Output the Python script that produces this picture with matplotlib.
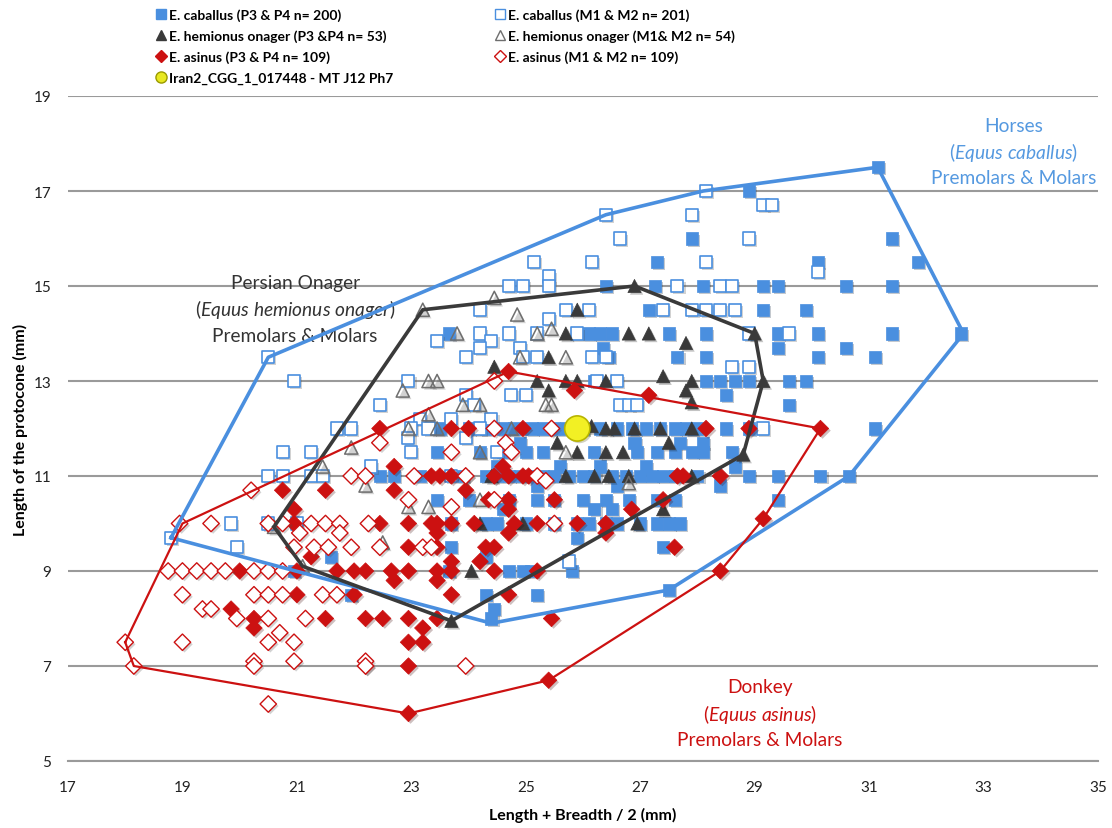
import matplotlib
matplotlib.use("Agg")
import matplotlib.pyplot as plt
import matplotlib.patheffects as pe
from matplotlib.lines import Line2D

plt.rcParams['font.family'] = ['Lato', 'DejaVu Sans']
plt.rcParams['mathtext.fontset'] = 'custom'
plt.rcParams['mathtext.rm'] = 'Lato'
plt.rcParams['mathtext.it'] = 'Lato:italic'

# ---- E. caballus P3 & P4 (filled squares), grouped by row of protocone length
cab_pm_rows = {
    17.5: [31.15],
    17.0: [28.9],
    16.0: [27.9, 31.4],
    15.5: [27.3, 30.1, 31.85],
    15.0: [26.4, 27.25, 28.1, 29.15, 29.4, 30.6, 31.4],
    14.5: [27.15, 29.15, 29.9],
    14.0: [23.65, 26.1, 26.3, 26.5, 27.5, 28.15, 29.4, 30.1, 31.4, 32.6],
    13.7: [26.35, 29.4, 30.6],
    13.5: [26.45, 27.65, 28.15, 30.1, 31.1],
    13.0: [26.2, 28.15, 28.4, 28.65, 28.9, 29.6, 29.9],
    12.7: [28.5],
    12.5: [29.6],
    12.0: [23.5, 24.0, 24.3, 24.6, 24.8, 25.1, 25.3, 25.5, 25.7, 26.0, 26.3,
           26.6, 26.85, 27.1, 27.35, 27.6, 27.8, 28.0, 28.5, 28.9, 31.1],
    11.7: [24.9, 26.9, 27.7, 28.1],
    11.5: [23.45, 24.2, 24.6, 25.0, 25.3, 26.2, 26.95, 27.3, 27.6, 27.9,
           28.1, 28.6],
    11.2: [24.5, 25.6, 26.3, 27.1, 28.65],
    11.0: [22.45, 22.7, 23.15, 23.9, 24.3, 24.5, 24.7, 24.9, 25.1, 25.3, 25.5,
           25.75, 26.0, 26.2, 26.5, 26.75, 27.0, 27.2, 27.4, 27.6, 28.0, 28.9,
           29.4, 30.15, 30.65],
    10.8: [25.2, 26.6, 28.4],
    10.5: [23.45, 24.0, 24.7, 25.2, 25.5, 26.0, 26.4, 26.8, 27.3, 27.6, 29.4],
    10.3: [24.6, 26.2, 26.5],
    10.0: [23.7, 24.3, 24.5, 25.0, 25.5, 25.9, 26.1, 26.4, 26.6, 27.0, 27.3,
           27.5, 27.7],
    9.7: [25.9],
    9.5: [23.7, 27.4],
    9.3: [21.6, 24.3],
    9.0: [20.95, 23.65, 24.7, 24.95, 25.1, 25.8],
    8.6: [27.5],
    8.5: [21.95, 24.3, 25.2],
    8.2: [24.45],
    8.0: [24.4],
}

# ---- E. caballus M1 & M2 (open squares)
cab_m_rows = {
    17.0: [28.15],
    16.7: [29.15, 29.3],
    16.5: [26.4, 27.9],
    16.0: [26.65, 28.9],
    15.5: [25.15, 26.15, 28.15],
    15.3: [30.1],
    15.2: [25.4],
    15.0: [24.7, 24.95, 25.4, 27.65, 28.4, 28.6],
    14.5: [24.2, 25.7, 26.1, 27.4, 27.9, 28.15, 28.4, 28.65],
    14.3: [25.4],
    14.0: [24.2, 24.7, 25.2, 25.9, 28.9, 29.6],
    13.85: [23.45, 24.4],
    13.7: [24.2, 24.9],
    13.5: [20.5, 23.95, 24.95, 25.2, 26.15, 26.4],
    13.3: [28.6, 28.9],
    13.0: [20.95, 22.95, 26.25, 26.6],
    12.7: [23.95, 24.75, 25.0],
    12.5: [22.45, 24.1, 26.65, 26.8, 26.95],
    12.2: [23.15, 23.7, 24.4],
    12.0: [21.7, 21.95, 23.0, 23.3, 24.2, 29.15],
    11.8: [22.95, 23.95],
    11.5: [20.75, 21.25, 23.0, 24.5],
    11.2: [22.3],
    11.0: [20.5, 20.75, 21.25, 21.45, 23.7],
    10.0: [19.85, 20.5, 21.0],
    9.7: [18.8],
    9.5: [19.95],
    9.2: [25.75],
}

# ---- E. hemionus onager P3 & P4 (filled triangles)
ona_pm_x = [26.9, 25.9, 25.7, 26.8, 27.15, 27.8, 25.4, 24.45, 25.2, 25.7, 25.9,
            26.4, 27.4, 27.9, 29.15, 29.0, 25.4, 27.8, 27.9, 26.15, 26.4, 26.55,
            26.9, 27.35, 27.9, 25.55, 27.5, 25.9, 26.4, 26.7, 28.8, 25.7, 26.2,
            26.45, 26.8, 27.9, 24.2, 24.95, 26.95, 27.4, 24.05, 23.7, 24.4]
ona_pm_y = [15.0, 14.5, 14.0, 14.0, 14.0, 13.8, 13.5, 13.3, 13.0, 13.0, 13.0,
            13.0, 13.1, 13.0, 13.0, 14.0, 12.8, 12.8, 12.55, 12.05, 12.0, 12.0,
            12.0, 12.0, 12.0, 11.7, 11.7, 11.5, 11.5, 11.5, 11.45, 11.0, 11.0,
            11.0, 11.0, 11.0, 10.0, 10.0, 10.0, 10.3, 9.0, 7.95, 11.0]

# ---- E. hemionus onager M1 & M2 (open triangles)
ona_m_x = [23.2, 24.45, 24.85, 23.8, 25.2, 25.45, 24.9, 25.7, 23.3, 23.45,
           22.85, 23.9, 24.2, 25.35, 25.45, 23.3, 22.95, 23.45, 24.75, 21.95,
           24.2, 25.7, 21.45, 22.2, 26.8, 24.2, 22.5, 22.95, 23.3, 20.6, 21.1]
ona_m_y = [14.5, 14.75, 14.4, 14.0, 14.0, 14.1, 13.5, 13.5, 13.0, 13.0,
           12.8, 12.5, 12.5, 12.5, 12.5, 12.3, 12.0, 12.0, 12.0, 11.6,
           11.5, 11.5, 11.2, 10.8, 10.85, 10.5, 9.6, 10.35, 10.35, 9.93, 9.1]

# ---- E. asinus P3 & P4 (filled diamonds)
asi_pm_rows = {
    13.2: [24.7],
    12.8: [25.85],
    12.7: [27.15],
    12.0: [22.45, 23.7, 24.0, 24.95, 28.15, 28.9, 30.15],
    11.2: [22.7, 24.6],
    11.0: [23.35, 23.5, 23.7, 23.95, 24.45, 24.7, 24.95, 25.05, 27.65, 27.75,
           28.4],
    10.7: [20.75, 21.5, 22.7, 23.95],
    10.5: [24.35, 24.7, 25.5, 27.4],
    10.3: [20.95, 24.7, 26.85],
    10.1: [29.15],
    10.0: [20.95, 22.45, 22.95, 23.35, 23.45, 23.7, 24.1, 24.8, 25.2, 25.9,
           26.4],
    9.8: [23.45, 24.7, 26.4],
    9.5: [22.95, 23.45, 24.3, 24.45, 27.6],
    9.3: [21.25],
    9.2: [23.7, 24.2],
    9.0: [20.0, 21.0, 21.7, 22.0, 22.2, 22.65, 22.95, 23.45, 23.7, 24.45,
          25.2, 28.4],
    8.8: [22.7, 23.45],
    8.5: [21.0, 22.0, 23.7, 24.7],
    8.2: [19.85],
    8.0: [20.25, 21.5, 22.2, 22.5, 22.95, 23.45, 25.45],
    7.8: [20.25, 23.2],
    7.5: [22.95, 23.2],
    7.0: [22.2, 22.95],
    6.7: [25.4],
    6.0: [22.95],
}

# ---- E. asinus M1 & M2 (open diamonds)
asi_m_rows = {
    13.0: [24.45],
    12.0: [24.45, 25.45],
    11.7: [22.45, 24.65],
    11.5: [23.7, 24.75],
    11.0: [21.95, 22.2, 23.05, 23.95, 25.2],
    10.9: [25.35],
    10.7: [20.2],
    10.5: [22.95, 24.45],
    10.35: [23.7],
    10.0: [18.95, 19.5, 20.5, 20.75, 21.25, 21.5, 21.75, 22.25, 25.5],
    9.8: [21.05, 21.75],
    9.5: [20.95, 21.3, 21.55, 21.95, 22.45, 23.2, 23.35],
    9.0: [18.75, 19.0, 19.25, 19.5, 19.75, 20.25, 20.5, 20.75],
    8.5: [19.0, 20.25, 20.5, 20.75, 21.45, 21.7],
    8.2: [19.35, 19.5],
    8.0: [19.95, 20.5, 21.15],
    7.7: [20.7],
    7.5: [18.0, 19.0, 20.5, 20.95],
    7.1: [20.95, 22.2, 20.25],
    7.0: [18.15, 20.25, 22.2, 23.95],
    6.2: [20.5],
}

# ---- sample Iran2_CGG_1_017448
iran_x = [25.9]
iran_y = [12.0]

# ---- outlines around each group
hull_cab_x = [18.8, 20.5, 26.4, 28.1, 31.15, 32.65, 30.65, 27.5, 24.4, 18.8]
hull_cab_y = [9.7, 13.5, 16.5, 17.0, 17.5, 14.0, 11.0, 8.6, 7.9, 9.7]
hull_ona_x = [20.6, 21.1, 23.7, 28.8, 29.15, 29.0, 26.9, 23.2, 20.6]
hull_ona_y = [9.93, 9.1, 7.95, 11.45, 13.0, 14.0, 15.0, 14.5, 9.93]
hull_asi_x = [18.0, 18.15, 22.95, 25.4, 28.4, 29.15, 30.15, 24.7, 19.0, 18.0]
hull_asi_y = [7.5, 7.0, 6.0, 6.7, 9.0, 10.1, 12.0, 13.2, 10.0, 7.5]

xticks = list(range(17, 36, 2))
yticks = list(range(5, 20, 2))

labels = ['E. caballus (P3 & P4 n= 200)', 'E. caballus (M1 & M2 n= 201)',
          'E. hemionus onager (P3 &P4 n= 53)', 'E. hemionus onager (M1& M2 n= 54)',
          'E. asinus (P3 & P4 n= 109)', 'E. asinus (M1 & M2 n= 109)',
          'Iran2_CGG_1_017448 - MT J12 Ph7']


def unpack(rows):
    xs, ys = [], []
    for y, row in rows.items():
        for x in row:
            xs.append(x)
            ys.append(y)
    return xs, ys


cab_pm_x, cab_pm_y = unpack(cab_pm_rows)
cab_m_x, cab_m_y = unpack(cab_m_rows)
asi_pm_x, asi_pm_y = unpack(asi_pm_rows)
asi_m_x, asi_m_y = unpack(asi_m_rows)

blue = '#4a8fdf'
dark = '#3a3a3a'
grey = '#6e6e6e'
red = '#cc1111'
shadow = [pe.SimplePatchShadow(offset=(1.5, -1.5), alpha=0.25), pe.Normal()]

fig = plt.figure(figsize=(11.12, 8.29), dpi=100)
ax = fig.add_axes([68 / 1112, 1 - 762 / 829, 1030 / 1112, 665 / 829])

s_sq = 75
s_tri = 90
s_dia = 70

h1 = ax.scatter(cab_pm_x, cab_pm_y, marker='s', s=s_sq, c=blue, edgecolors=blue,
                linewidths=0.5, zorder=3)
h2 = ax.scatter(cab_m_x, cab_m_y, marker='s', s=s_sq, facecolors='white',
                edgecolors=blue, linewidths=1.2, zorder=3)
h3 = ax.scatter(ona_pm_x, ona_pm_y, marker='^', s=s_tri, c=dark, edgecolors=dark,
                linewidths=0.5, zorder=4)
h4 = ax.scatter(ona_m_x, ona_m_y, marker='^', s=s_tri, facecolors='none',
                edgecolors=grey, linewidths=1.1, zorder=4)
h5 = ax.scatter(asi_pm_x, asi_pm_y, marker='D', s=s_dia, c=red, edgecolors=red,
                linewidths=0.5, zorder=5)
h6 = ax.scatter(asi_m_x, asi_m_y, marker='D', s=s_dia, facecolors='white',
                edgecolors=red, linewidths=1.0, zorder=5)
for h in (h1, h2, h3, h4, h5, h6):
    h.set_path_effects(shadow)

ax.plot(hull_cab_x, hull_cab_y, color=blue, lw=2.6, zorder=6)
ax.plot(hull_ona_x, hull_ona_y, color=dark, lw=2.6, zorder=6)
ax.plot(hull_asi_x, hull_asi_y, color=red, lw=1.6, zorder=6)

h7 = ax.scatter(iran_x, iran_y, marker='o', s=330, c='#f2f024', edgecolors='#b8b400',
                linewidths=1.2, zorder=7)
h7.set_path_effects(shadow)

ax.set_xlim(17, 35)
ax.set_ylim(5, 19)
ax.set_xticks(xticks)
ax.set_yticks(yticks)
ax.tick_params(length=0, labelsize=11, colors='#222222')
ax.tick_params(axis='x', pad=14)
ax.tick_params(axis='y', pad=12)
ax.yaxis.grid(True, color='#9a9a9a', lw=1.5)
ax.set_axisbelow(True)
for side in ('left', 'right', 'top'):
    ax.spines[side].set_visible(False)
ax.spines['bottom'].set_color('#9a9a9a')
ax.spines['bottom'].set_linewidth(1.5)

ax.set_xlabel('Length + Breadth / 2 (mm)', fontsize=11.5, fontweight='bold',
              va='center')
ax.set_ylabel('Length of the protocone (mm)', fontsize=11.5, fontweight='bold',
              va='center')
ax.xaxis.set_label_coords(0.5, -53 / 665)
ax.yaxis.set_label_coords(-48 / 1030, 0.5)

# group captions
lab_font = dict(family='Lato', fontsize=13.8, ha='center', va='center')
ax.text(33.53, 18.37, 'Horses', color='#5599e0', **lab_font)
ax.text(33.53, 17.84, r'($\mathit{Equus\ caballus}$)', color='#5599e0', **lab_font)
ax.text(33.53, 17.29, 'Premolars & Molars', color='#5599e0', **lab_font)
ax.text(20.97, 15.08, 'Persian Onager', color='#333333', **lab_font)
ax.text(20.97, 14.52, r'($\mathit{Equus\ hemionus\ onager}$)', color='#333333',
        **lab_font)
ax.text(20.97, 13.95, 'Premolars & Molars', color='#333333', **lab_font)
ax.text(29.09, 6.56, 'Donkey', color='#cc1111', **lab_font)
ax.text(29.09, 6.01, r'($\mathit{Equus\ asinus}$)', color='#cc1111', **lab_font)
ax.text(29.09, 5.46, 'Premolars & Molars', color='#cc1111', **lab_font)

# legend in two columns
def proxy(marker, face, edge, size=7):
    return Line2D([], [], ls='none', marker=marker, markersize=size,
                  markerfacecolor=face, markeredgecolor=edge, markeredgewidth=1.0)


left_handles = [proxy('s', blue, blue), proxy('^', dark, dark),
                proxy('D', red, red, 6), proxy('o', '#e8e820', '#9a9a00', 8)]
right_handles = [proxy('s', 'white', blue), proxy('^', 'white', grey),
                 proxy('D', 'white', red, 6)]
leg_kw = dict(loc='upper left', frameon=False, prop=dict(weight='bold', size=10),
              handletextpad=0.15, labelspacing=0.6, handlelength=0.8,
              borderaxespad=0.0)
leg1 = fig.legend(left_handles, [labels[0], labels[2], labels[4], labels[6]],
                  bbox_to_anchor=(150 / 1112, 1 - 4 / 829), **leg_kw)
leg2 = fig.legend(right_handles, [labels[1], labels[3], labels[5]],
                  bbox_to_anchor=(489 / 1112, 1 - 4 / 829), **leg_kw)

fig.savefig('out.png', dpi=100)
